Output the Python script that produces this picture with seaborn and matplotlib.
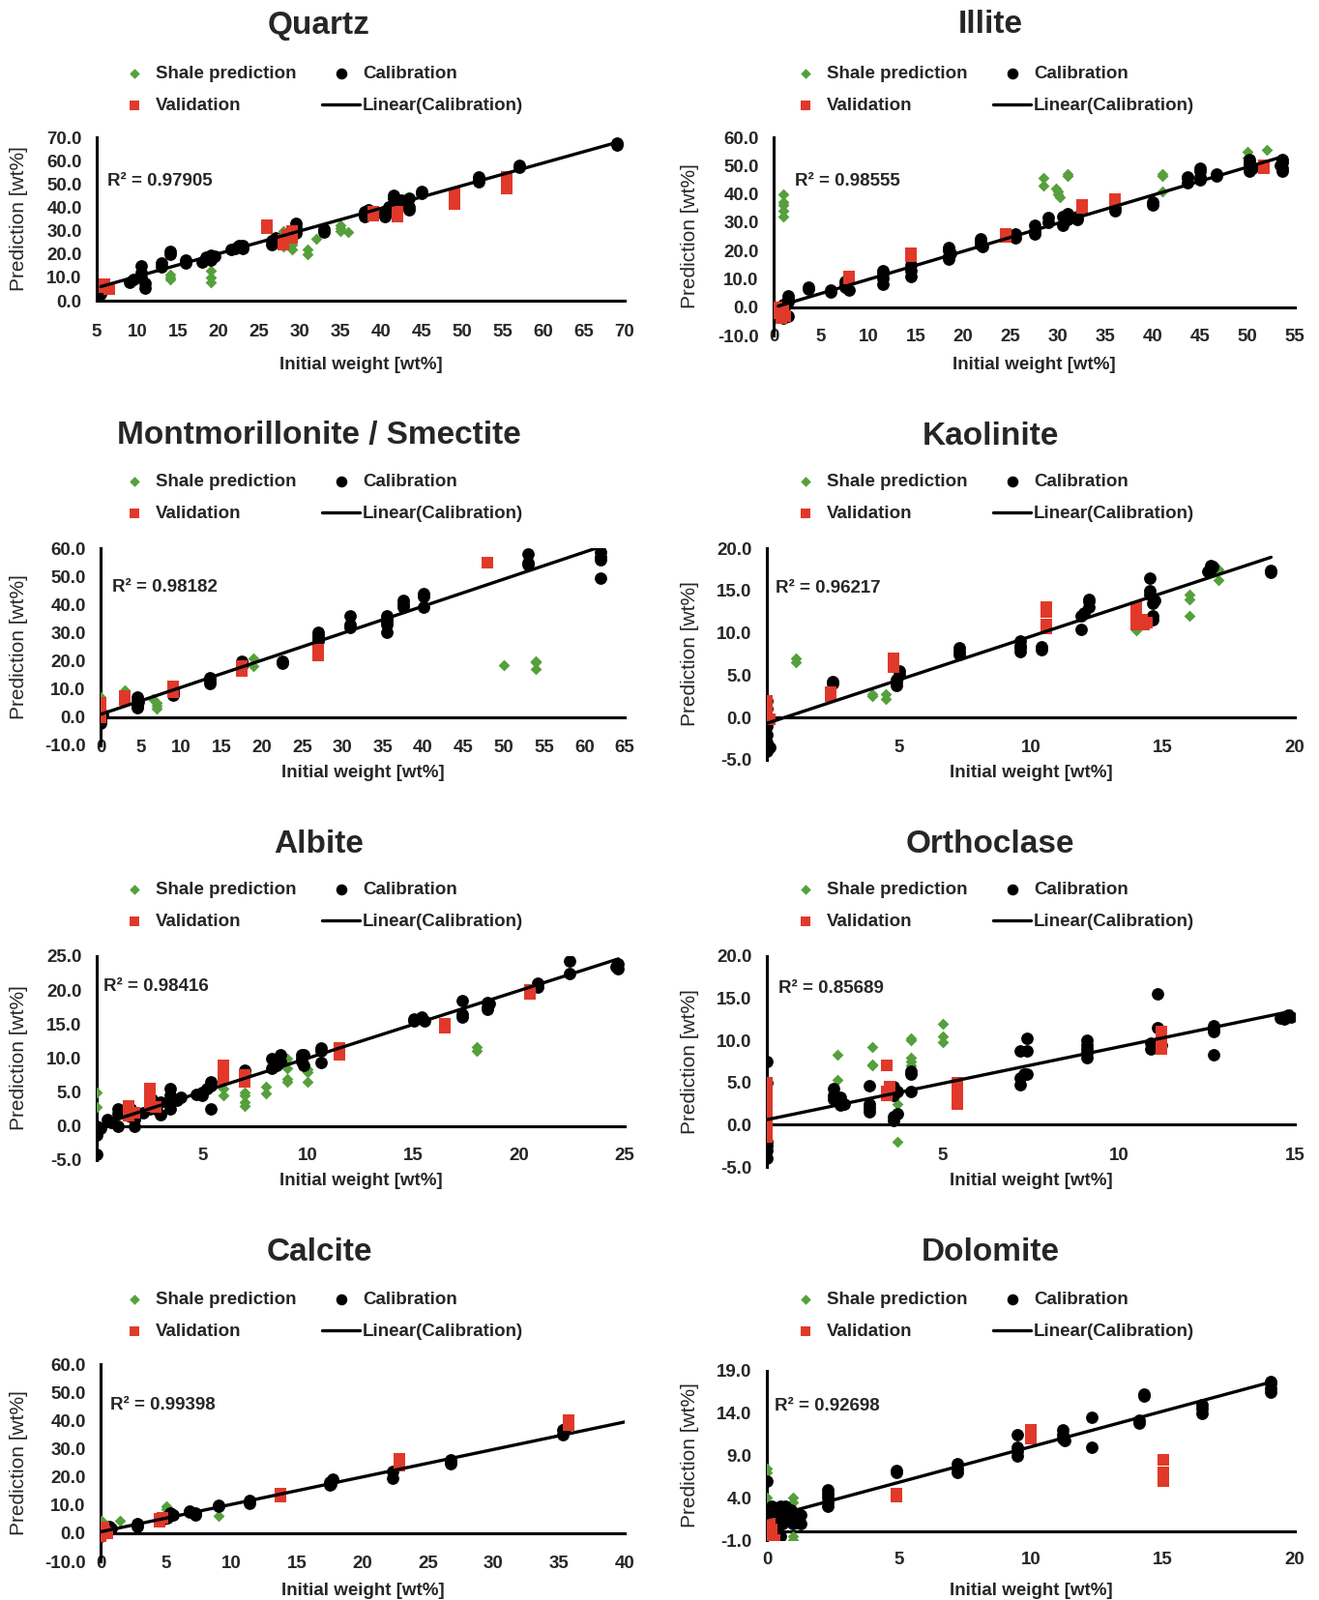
import matplotlib
matplotlib.use("Agg")
import matplotlib.pyplot as plt
import pandas as pd
import seaborn as sns

# ---- data: (initial weight, prediction) pairs ----
QUARTZ_SHALE = [(14, 9), (14, 11), (14, 10), (19, 8), (19, 10), (19, 13), (28, 23), (28, 30), (29, 22),
                (29, 24), (31, 20), (31, 22), (32, 26.5), (35, 31), (35, 32.5), (35, 30), (36, 29.5)]
QUARTZ_VAL = [(6, 6), (6.5, 5), (6, 7), (26, 32.5), (26, 31), (28, 24), (28, 26), (28.5, 28), (29, 30),
              (29, 27), (39, 38), (39, 36.5), (42, 38), (42, 36), (42, 37), (49, 46), (49, 44), (49, 41.5),
              (55.5, 53), (55.5, 48), (55.5, 51)]
QUARTZ_CAL = [(5.5, 3), (5.5, 5), (5.7, 7), (9, 8), (9.5, 9), (10.5, 15), (10.5, 12), (10.5, 10), (11, 7.5),
              (11, 5.5), (13, 14.5), (13, 16), (14, 20), (14, 21), (16, 16), (16, 17.5), (18, 16.5),
              (18.5, 18.5), (19, 19.5), (19, 17.5), (19.5, 19), (21.5, 22), (22, 22.5), (22.5, 23.5),
              (23, 22.5), (23, 23.5), (26.5, 24), (26.5, 25.5), (27, 27), (29, 30), (29.5, 31.5), (29.5, 33),
              (29.5, 29), (33, 30.5), (33, 29.5), (38, 38), (38, 36), (38.5, 39), (40.5, 36), (40.5, 38),
              (40.5, 37), (41, 40), (41.5, 44), (41.5, 45), (42, 42), (42, 40), (42.5, 43), (43.5, 44),
              (43.5, 40), (43.5, 39), (45, 46), (45, 47), (52, 51), (52, 53), (52, 52), (57, 57), (57, 58),
              (69, 66.5), (69, 67.5)]

ILLITE_SHALE = [(1, 40), (1, 36), (1, 34), (1, 32), (1, 37), (28.5, 45.5), (28.5, 43), (29.8, 42), (30, 40),
                (30.2, 39), (30, 41), (31, 46.5), (31, 47), (41, 46.5), (41, 41), (41, 47), (50, 55),
                (50, 53), (52, 55.5)]
ILLITE_VAL = [(0.3, 0), (0.5, -2), (0.8, -4), (1, -1), (1.2, -3), (0.7, -2), (8, 11), (8, 10), (14.5, 19),
              (14.5, 18), (24.5, 26), (24.5, 25), (32.5, 35), (32.5, 36), (36, 37.5), (36, 38), (51.7, 49),
              (51.7, 50)]
ILLITE_CAL = [(0.5, 0), (0.5, -3), (1, -4), (1.2, -2), (1.5, 2), (1.5, 3), (1.5, 4), (1.5, -3), (1, 1),
              (3.7, 7), (3.7, 6.5), (6, 6), (6, 5.5), (7.5, 7), (7.5, 8), (8, 6), (7.5, 9), (11.5, 12),
              (11.5, 8), (11.5, 10), (11.5, 13), (14.5, 13), (14.5, 11), (14.5, 15), (18.5, 20), (18.5, 18),
              (18.5, 17), (18.5, 21), (18.7, 19), (21.8, 22), (21.8, 23), (21.8, 24), (22, 21.5),
              (25.5, 26), (25.5, 24.5), (27.5, 27), (27.5, 29), (27.5, 26), (29, 30), (29, 31.5), (30.5, 29),
              (30.5, 32), (31, 33), (31, 31), (32, 31), (32, 32), (36, 34), (36, 35), (40, 37), (40, 36),
              (43.7, 44), (43.7, 45.5), (43.7, 46), (45, 46), (45, 48), (45, 49), (45, 45), (46.7, 47),
              (46.7, 46.5), (50.2, 48), (50.2, 51), (50.2, 52), (50.2, 50), (50.5, 49), (53.7, 49),
              (53.7, 51), (53.7, 48), (53.7, 52), (53.5, 50)]

MONT_SHALE = [(0, 7), (3, 9.5), (6.5, 6.5), (7, 3), (7, 4), (7, 5), (19, 18), (19, 21), (50, 18.5),
              (54, 17), (54, 19.5), (54, 20)]
MONT_VAL = [(0, 0), (0, 1), (0, 2), (0, 3), (0, 4), (0, 5), (3, 6), (3, 7.5), (9, 9), (9, 10), (9, 11),
            (17.5, 16.5), (17.5, 18), (27, 22), (27, 24), (48, 55)]
MONT_CAL = [(0, 0), (0, -1), (0, -2), (0.2, 1), (4.5, 4), (4.5, 5), (4.5, 6), (4.5, 7), (4.5, 3.5),
            (4.7, 5.5), (9, 8), (9, 9), (9, 10), (13.5, 12), (13.5, 13), (13.5, 14), (17.5, 19),
            (17.5, 20), (17.5, 18), (22.5, 19), (22.5, 20), (27, 28), (27, 29), (27, 30), (27, 27),
            (31, 32), (31, 33), (31, 36), (35.5, 30), (35.5, 33), (35.5, 34), (35.5, 35), (35.5, 36),
            (37.5, 39), (37.5, 40), (37.5, 41.5), (40, 39), (40, 43), (40, 44), (53, 54), (53, 55),
            (53, 58), (62, 49.5), (62, 56), (62, 57), (62, 58.5)]

KAOL_SHALE = [(1.1, 6.5), (1.1, 7), (4, 2.5), (4, 2.8), (4.5, 2.2), (4.5, 2.8), (14, 10.3), (16, 12),
              (16, 14), (16, 14.5), (17.1, 16.2), (17.1, 17.5)]
KAOL_VAL = [(0, 0), (0, 1), (0, 2), (0, 1.5), (0, 0.5), (0.1, -0.2), (2.4, 2.5), (2.4, 3), (4.8, 6),
            (4.8, 7), (10.6, 10.5), (10.6, 11), (10.6, 12.5), (10.6, 13), (14, 11), (14, 12), (14, 13),
            (14.2, 11.5), (14.3, 11), (14.4, 11.2)]
KAOL_CAL = [(0, -4), (0, -3), (0, -2), (0, -1), (0, 0), (0, 1), (0, 2), (0.1, -3.5), (2.5, 4.3),
            (2.5, 4.0), (4.9, 3.8), (4.9, 4.5), (5, 5), (5, 5.5), (4.9, 4.2), (7.3, 7.8), (7.3, 8.2),
            (7.3, 7.5), (9.6, 7.8), (9.6, 8.5), (9.6, 9), (9.6, 8.2), (10.4, 8), (10.4, 8.4),
            (11.9, 10.4), (11.9, 12), (12, 12.4), (12.2, 13), (12.2, 13.7), (12.2, 14), (14.5, 16.5),
            (14.5, 15), (14.5, 14.5), (14.6, 13.5), (14.6, 12), (14.6, 11.5), (14.7, 13.8), (16.8, 17.5),
            (16.8, 18), (16.9, 17.8), (16.7, 17.3), (19.1, 17.2), (19.1, 17.4)]

ALBITE_SHALE = [(0, 5), (0, 2.8), (6, 4.5), (6, 5.5), (7, 3), (7, 3.5), (7, 4.5), (7, 5), (8, 4.8),
                (8, 5.8), (9, 6.5), (9, 7), (9, 8.5), (9, 10), (10, 6.5), (10, 8), (10, 8.3), (18, 11),
                (18, 11.7)]
ALBITE_VAL = [(1.5, 1.5), (1.5, 2.5), (1.5, 3), (1.8, 2), (2.5, 3), (2.5, 4), (2.5, 5.5), (2.5, 5),
              (2.8, 2.8), (6, 7), (6, 8.5), (6, 9), (7, 6.5), (7, 7.5), (11.5, 10.5), (11.5, 11.5),
              (16.5, 14.5), (16.5, 15), (20.5, 19.5), (20.5, 20)]
ALBITE_CAL = [(0, 0), (0, -1.3), (0, -4.2), (0.2, -0.3), (0.5, 1), (0.7, 0.5), (1, 1.8), (1, 0), (1, 2.5),
              (1.3, 2), (1.5, 1.5), (1.8, 0), (1.8, 1), (1.6, 2.5), (2.2, 2), (2.5, 2.5), (2.8, 3),
              (3, 1.7), (3, 3.5), (2.6, 4), (2.8, 2.5), (3.5, 5.5), (3.5, 4.5), (3.5, 3.5), (3.5, 2.5),
              (3.8, 3.8), (4, 4.2), (4.7, 4.7), (5, 5), (5, 4.5), (5.2, 5.5), (5.4, 6), (5.4, 6.5),
              (5.4, 2.5), (7, 8.2), (7, 7.5), (8.3, 8.5), (8.3, 10), (8.5, 9), (8.7, 10.5), (8.7, 9.5),
              (8.5, 9.8), (9.7, 9.5), (9.7, 10.5), (9.8, 10.5), (9.8, 9), (9.7, 10), (10.6, 9.4),
              (10.6, 11.5), (10.6, 11), (15, 15.5), (15, 15.8), (15.4, 16), (15.5, 15.5), (17.3, 16.5),
              (17.3, 18.5), (17.3, 16), (18.5, 17.2), (18.5, 18.2), (18.5, 17.5), (18.6, 18), (20.9, 20.5),
              (20.9, 21), (22.4, 22.5), (22.4, 24.3), (24.7, 23.2), (24.7, 23.8), (24.6, 23.5)]

ORTHO_SHALE = [(2, 8.3), (2, 5.3), (3, 9.2), (3, 7), (3, 7.2), (3.7, 2.5), (3.7, -2), (4.1, 10.2),
               (4.1, 10), (4.1, 8), (4.1, 7.5), (4.1, 7), (5, 12), (5, 10.5), (5, 9.8)]
ORTHO_VAL = [(0, -1.5), (0, -0.5), (0, 0.5), (0, 1.5), (0, 2.5), (0, 3.5), (0, 4.5), (0, 5), (3.4, 7),
             (3.4, 4), (3.4, 3.5), (3.5, 4.5), (5.4, 5), (5.4, 4), (5.4, 3), (5.4, 2.5), (11.2, 9),
             (11.2, 10), (11.2, 11)]
ORTHO_CAL = [(0, 7.5), (0, 5), (0, -2), (0, -3), (0, -4), (0, -2.5), (1.9, 4.3), (1.9, 3.5), (1.9, 3),
             (2.1, 2.8), (2.1, 3.2), (2.1, 2.3), (2.2, 2.5), (2.9, 4.6), (2.9, 2.5), (2.9, 2), (2.9, 1.5),
             (3.6, 0.5), (3.6, 1), (3.7, 1.3), (3.6, 3.5), (3.6, 4.5), (3.7, 4), (4.1, 6.3), (4.1, 6),
             (4.1, 4), (7.2, 4.8), (7.2, 5.5), (7.3, 6), (7.2, 8.8), (7.4, 8.8), (7.4, 10.2), (7.4, 6),
             (9.1, 8), (9.1, 8.5), (9.1, 9), (9.1, 9.5), (9.1, 10), (10.9, 9), (10.9, 9.7), (11.1, 15.5),
             (11.1, 11.5), (11.2, 9.5), (12.7, 11), (12.7, 11.8), (12.7, 8.3), (12.7, 11.3), (14.6, 12.7),
             (14.8, 13), (14.9, 12.8), (14.7, 12.5)]

CALCITE_SHALE = [(0.1, 4.5), (1.5, 4.5), (5, 8.5), (5, 9.5), (9, 6)]
CALCITE_VAL = [(0, 0), (0, 1), (0, -1), (0.2, 2), (0.3, 0.5), (0.5, 0), (4.5, 4), (4.5, 5), (4.7, 5.5),
               (13.7, 13), (13.7, 14), (22.8, 24), (22.8, 25.5), (22.8, 26.5), (35.7, 38.5), (35.7, 40),
               (35.7, 39)]
CALCITE_CAL = [(0, 0), (0, -1), (0, 1), (0.3, 0.5), (0.5, 1), (0.7, 2.5), (0.8, 1.5), (2.8, 2.5),
               (2.8, 3.5), (4.8, 5), (5.2, 6), (5.3, 7), (5.5, 6.5), (5.1, 5.5), (6.8, 7.5), (6.8, 8),
               (7.2, 6.5), (7.2, 7), (9, 9.5), (9, 10), (11.4, 10.5), (11.4, 11.5), (17.5, 17), (17.5, 18),
               (17.7, 19), (17.6, 17.5), (22.3, 19.5), (22.3, 22), (26.7, 24.5), (26.7, 26), (26.7, 25.5),
               (35.3, 35), (35.3, 36.5), (35.4, 37)]

DOLO_SHALE = [(0, 7.5), (0, 7), (0, 4), (1, 4), (1, 3.5), (1, -0.5), (1, -1)]
DOLO_VAL = [(0, -1), (0, -0.5), (0, 0), (0.1, 0.5), (0.1, 1), (0.2, -0.8), (0.3, -1), (0.2, 0.3),
            (4.9, 4.2), (4.9, 4.5), (10, 11), (10, 12), (10, 11.5), (15, 8.5), (15, 7), (15, 6.5), (15, 6)]
DOLO_CAL = [(0, 6), (0, 2.5), (0, 1.5), (0.1, 2), (0.2, 3), (0.2, 1), (0.3, 2.5), (0.4, 1.5), (0.5, 2),
            (0.5, 3), (0.6, 2.5), (0.6, 1), (0.7, 2), (0.7, 3), (0.8, 1.5), (0.9, 2.5), (1, 1), (1, 2),
            (1.1, 1.5), (1.2, 2), (1.3, 1), (1.3, 2), (0.3, 0), (0.4, 0.5), (0.5, -0.5), (2.3, 3),
            (2.3, 3.5), (2.3, 4), (2.3, 4.5), (2.3, 5), (4.9, 7.2), (4.9, 7), (7.2, 7), (7.2, 7.5),
            (7.2, 8), (9.5, 9), (9.5, 9.5), (9.5, 10), (9.5, 11.5), (11.2, 11), (11.2, 11.5), (11.2, 12),
            (11.3, 10.8), (12.3, 10), (12.3, 13.5), (14.1, 12.8), (14.1, 13.2), (14.3, 16), (14.3, 16.3),
            (16.5, 14), (16.5, 14.5), (16.5, 15), (19.1, 16.5), (19.1, 17), (19.1, 17.5), (19.1, 17.8)]

TITLES = ["Quartz", "Illite", "Montmorillonite / Smectite", "Kaolinite",
          "Albite", "Orthoclase", "Calcite", "Dolomite"]
R2 = ["0.97905", "0.98555", "0.98182", "0.96217", "0.98416", "0.85689", "0.99398", "0.92698"]
SERIES = [(QUARTZ_SHALE, QUARTZ_VAL, QUARTZ_CAL), (ILLITE_SHALE, ILLITE_VAL, ILLITE_CAL),
          (MONT_SHALE, MONT_VAL, MONT_CAL), (KAOL_SHALE, KAOL_VAL, KAOL_CAL),
          (ALBITE_SHALE, ALBITE_VAL, ALBITE_CAL), (ORTHO_SHALE, ORTHO_VAL, ORTHO_CAL),
          (CALCITE_SHALE, CALCITE_VAL, CALCITE_CAL), (DOLO_SHALE, DOLO_VAL, DOLO_CAL)]
X_LIMS = [(5, 70), (0, 55), (0, 65), (0, 20), (0, 25), (0, 15), (0, 40), (0, 20)]
Y_LIMS = [(0, 70), (-10, 60), (-10, 60), (-5, 20), (-5, 25), (-5, 20), (-10, 60), (-1, 19)]
X_TICKS = [list(range(5, 71, 5)), list(range(0, 56, 5)), list(range(0, 66, 5)), [5, 10, 15, 20],
           [5, 10, 15, 20, 25], [5, 10, 15], list(range(0, 41, 5)), [0, 5, 10, 15, 20]]
Y_TICKS = [list(range(0, 71, 10)), list(range(-10, 61, 10)), list(range(-10, 61, 10)),
           list(range(-5, 21, 5)), list(range(-5, 26, 5)), list(range(-5, 21, 5)),
           list(range(-10, 61, 10)), list(range(-1, 20, 5))]
# the calcite trendline is extended (forecast) to the end of the axis
TRUNCATE = [True, True, True, True, True, True, False, True]

# ---- layout in pixels of the 1364x1655 canvas ----
W, H = 1364, 1655
BOXES = [(100, 646, 142, 311), (800, 1339, 142, 347), (104, 646, 567, 771), (793, 1339, 567, 786),
         (100, 646, 989, 1200), (793, 1339, 989, 1207), (104, 646, 1411, 1615), (793, 1339, 1418, 1593)]
XLAB_ROW = [345, 350, 775, 775, 1197, 1197, 1619, 1615]
R2_POS = [(0.02, 0.73), (0.04, 0.78), (0.022, 0.80), (0.017, 0.81),
          (0.013, 0.85), (0.022, 0.845), (0.018, 0.79), (0.015, 0.79)]
TITLE_Y = [26, 26, 451, 451, 873, 873, 1295, 1295]
XLABEL_Y = [378, 378, 800, 800, 1222, 1222, 1645, 1645]
LEGEND_TOP = [68, 68, 490, 490, 912, 912, 1336, 1336]

GREEN, RED, BLACK = "#55a03c", "#e0392a", "black"
FS = 13.5

sns.set_style("white")
plt.rcParams["font.family"] = ["Liberation Sans", "DejaVu Sans"]
plt.rcParams["font.weight"] = "bold"
plt.rcParams["axes.labelweight"] = "bold"

fig = plt.figure(figsize=(W / 100, H / 100), dpi=100)

for i, (shale, val, cal) in enumerate(SERIES):
    left, right, top, bottom = BOXES[i]
    ax = fig.add_axes([left / W, 1 - bottom / H, (right - left) / W, (bottom - top) / H])

    df_s = pd.DataFrame(shale, columns=["x", "y"])
    df_v = pd.DataFrame(val, columns=["x", "y"])
    df_c = pd.DataFrame(cal, columns=["x", "y"])

    sns.scatterplot(data=df_s, x="x", y="y", ax=ax, marker="D", color=GREEN, s=36,
                    linewidth=0, label="Shale prediction", zorder=3)
    sns.scatterplot(data=df_c, x="x", y="y", ax=ax, marker="o", color=BLACK, s=85,
                    linewidth=0, label="Calibration", zorder=4)
    sns.scatterplot(data=df_v, x="x", y="y", ax=ax, marker="s", color=RED, s=64,
                    linewidth=0, label="Validation", zorder=5)
    ax.set_xlim(*X_LIMS[i])
    ax.set_ylim(*Y_LIMS[i])
    sns.regplot(data=df_c, x="x", y="y", ax=ax, scatter=False, ci=None, truncate=TRUNCATE[i],
                color=BLACK, label="Linear(Calibration)", line_kws={"lw": 2.4, "zorder": 6})
    ax.set_xlim(*X_LIMS[i])
    ax.set_ylim(*Y_LIMS[i])

    for side in ["top", "right"]:
        ax.spines[side].set_visible(False)
    for side in ["left", "bottom"]:
        ax.spines[side].set_linewidth(2.2)
        ax.spines[side].set_color("black")
    ax.spines["bottom"].set_position(("data", 0))

    ax.set_yticks(Y_TICKS[i])
    ax.set_yticklabels([f"{v:.1f}" for v in Y_TICKS[i]], fontsize=FS, fontweight="bold")
    ax.set_xticks(X_TICKS[i])
    ax.tick_params(axis="x", direction="out", length=5, width=2, labelbottom=False, color="black")
    ax.tick_params(axis="y", direction="out", length=5, width=2, pad=6, color="black")

    # x tick labels sit in a row below the plot, as in the spreadsheet chart
    row_top = XLAB_ROW[i] - 10
    sec = ax.secondary_xaxis((bottom - row_top) / (bottom - top))
    sec.set_xticks(X_TICKS[i], labels=[str(t) for t in X_TICKS[i]], fontsize=FS, fontweight="bold")
    sec.tick_params(length=0, pad=0)
    for sp in sec.spines.values():
        sp.set_visible(False)

    ax.set_xlabel("")
    ax.set_ylabel("Prediction [wt%]", fontsize=15, fontweight="normal")
    ylab_x = 723 if i % 2 else 29
    ax.yaxis.set_label_coords((ylab_x - left) / (right - left), 0.5)

    ax.text(R2_POS[i][0], R2_POS[i][1], f"R\u00b2 = {R2[i]}", transform=ax.transAxes,
            fontsize=FS, fontweight="bold", va="center", ha="left")

    col_left = 0 if i % 2 == 0 else 682
    fig.text((col_left + 330 + (12 if i % 2 else 0)) / W, 1 - TITLE_Y[i] / H, TITLES[i],
             ha="center", va="center", fontsize=24, fontweight="bold")
    cx = (left + right) / 2
    fig.text(cx / W, 1 - XLABEL_Y[i] / H, "Initial weight [wt%]", ha="center", va="center",
             fontsize=FS, fontweight="bold")

    handles, labels = ax.get_legend_handles_labels()
    order = [labels.index(n) for n in ["Shale prediction", "Validation", "Calibration", "Linear(Calibration)"]]
    leg_left = 119 if i % 2 == 0 else 813
    ax.legend([handles[k] for k in order], [labels[k] for k in order], ncol=2,
              loc="upper left", bbox_to_anchor=(leg_left / W, 1 - LEGEND_TOP[i] / H),
              bbox_transform=fig.transFigure, frameon=False, fontsize=FS,
              handlelength=2.1, handletextpad=0.15, columnspacing=1.4, labelspacing=0.85,
              borderpad=0, borderaxespad=0, markerscale=0.9)

fig.savefig("out.png", dpi=100)
